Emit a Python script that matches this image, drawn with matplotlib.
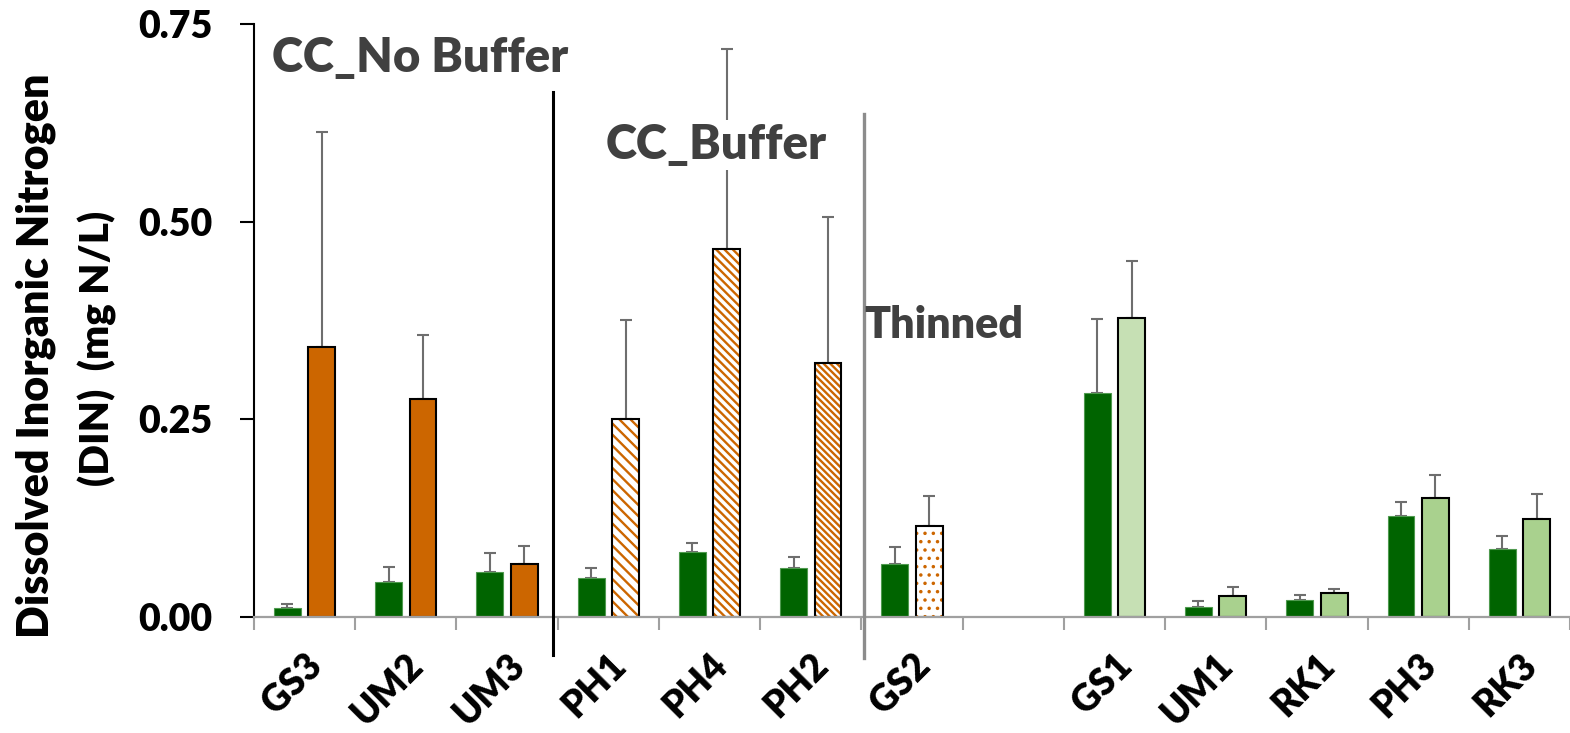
import matplotlib
matplotlib.use('Agg')
import matplotlib.pyplot as plt
import numpy as np

plt.rcParams['font.family'] = ['Lato', 'DejaVu Sans']

# sites along the x axis ('' is the empty slot between the two parts)
sites = ['GS3', 'UM2', 'UM3', 'PH1', 'PH4', 'PH2', 'GS2', '', 'GS1', 'UM1', 'RK1', 'PH3', 'RK3']

# first (dark green) bar of each site and its upper error
dark_mean = [0.011, 0.044, 0.057, 0.049, 0.082, 0.062, 0.067, np.nan, 0.283, 0.013, 0.022, 0.128, 0.086]
dark_err = [0.006, 0.019, 0.024, 0.013, 0.011, 0.014, 0.021, np.nan, 0.094, 0.007, 0.006, 0.017, 0.017]

# second bar of each site and its upper error
second_mean = [0.341, 0.276, 0.067, 0.250, 0.465, 0.321, 0.115, np.nan, 0.378, 0.027, 0.030, 0.151, 0.124]
second_err = [0.272, 0.081, 0.023, 0.126, 0.254, 0.185, 0.038, np.nan, 0.072, 0.011, 0.006, 0.029, 0.031]

yticks = [0.0, 0.25, 0.50, 0.75]

ORANGE = '#cc6600'
DARK = '#006400'
# style of the second bar: (face, hatch colour, hatch)
second_style = {
    'GS3': ('solid', ORANGE, None), 'UM2': ('solid', ORANGE, None), 'UM3': ('solid', ORANGE, None),
    'PH1': ('hatch', ORANGE, '\\\\\\'), 'PH4': ('hatch', ORANGE, '\\\\\\\\'), 'PH2': ('hatch', ORANGE, '\\\\\\\\\\'),
    'GS2': ('hatch', ORANGE, '..'),
    'GS1': ('solid', '#c6e0b4', None), 'UM1': ('solid', '#a9d18e', None), 'RK1': ('solid', '#a9d18e', None),
    'PH3': ('solid', '#a9d18e', None), 'RK3': ('solid', '#a9d18e', None),
}

W, H = 1570, 733
slot = 102.6  # px per site
fig = plt.figure(figsize=(W / 100, H / 100), dpi=100)
ax = fig.add_axes([254 / W, 116 / H, (W - 254) / W, 593 / H])

x = np.arange(len(sites))
off = 0.17
bw = 0.265
WT = 'heavy'

ax.bar(x - off, dark_mean, bw, color=DARK, edgecolor='#4f9a4f', linewidth=0.8, zorder=2)

for i, s in enumerate(sites):
    if s == '':
        continue
    kind, col, hatch = second_style[s]
    if kind == 'solid':
        ax.bar(x[i] + off, second_mean[i], bw, color=col, edgecolor='black', linewidth=1.5, zorder=2)
    else:
        plt.rcParams['hatch.linewidth'] = 1.7 if hatch != '..' else 1.3
        ax.bar(x[i] + off, second_mean[i], bw, color='white', edgecolor=col, hatch=hatch,
               linewidth=0, zorder=2)
        ax.bar(x[i] + off, second_mean[i], bw, fill=False, edgecolor='black', linewidth=1.5, zorder=2.1)

zeros = np.zeros(len(sites))
ax.errorbar(x - off, dark_mean, yerr=[zeros, dark_err], fmt='none', ecolor='#6e6e6e',
            elinewidth=1.5, capsize=4.5, capthick=1.5, zorder=1.5)
ax.errorbar(x + off, second_mean, yerr=[zeros, second_err], fmt='none', ecolor='#6e6e6e',
            elinewidth=1.5, capsize=4.5, capthick=1.5, zorder=1.5)

ax.set_xlim(-0.5, -0.5 + (W - 254) / slot)
ax.set_ylim(0, 0.75)

ax.spines['top'].set_visible(False)
ax.spines['right'].set_visible(False)
ax.spines['left'].set_color('black')
ax.spines['left'].set_linewidth(1.5)
ax.spines['bottom'].set_color('#a0a0a0')
ax.spines['bottom'].set_linewidth(1.6)
ax.spines['bottom'].set_zorder(3)

ax.set_yticks(yticks)
ax.set_yticklabels(['%.2f' % v for v in yticks], fontsize=27, fontweight=WT)
ax.tick_params(axis='y', length=10, width=1.5, color='black', pad=20)

ax.set_xticks(x)
ax.set_xticklabels(sites, fontsize=26.5, fontweight=WT, rotation=45,
                   ha='right', va='top', rotation_mode='anchor')
ax.set_xticks(np.arange(-0.5, len(sites), 1), minor=True)
ax.tick_params(axis='x', which='major', length=0, pad=22)
ax.tick_params(axis='x', which='minor', length=9, width=1.5, color='#a0a0a0')

# section dividers
ax.plot([2.453, 2.453], [0.664, -0.048], color='black', lw=2.2, clip_on=False, zorder=4)
ax.plot([5.523, 5.523], [0.636, -0.052], color='#8c8c8c', lw=2.4, clip_on=False, zorder=4)

txt = dict(fontsize=34, fontweight=WT, color='#404040', va='baseline', ha='left', zorder=5)
ax.text(-0.325, 0.689, 'CC_No Buffer', **txt)
ax.text(2.97, 0.579, 'CC_Buffer', bbox=dict(facecolor='white', edgecolor='none', pad=2), **txt)
t = dict(txt)
t['fontsize'] = 31
ax.text(5.53, 0.353, 'Thinned', **t)

fig.text(36 / W, 1 - 356 / H, 'Dissolved Inorganic Nitrogen', rotation=90, fontsize=31,
         fontweight=WT, ha='center', va='center')
fig.text(97 / W, 1 - 348 / H, '(DIN)  (mg N/L)', rotation=90, fontsize=29,
         fontweight=WT, ha='center', va='center')

fig.savefig('out.png', dpi=100)
